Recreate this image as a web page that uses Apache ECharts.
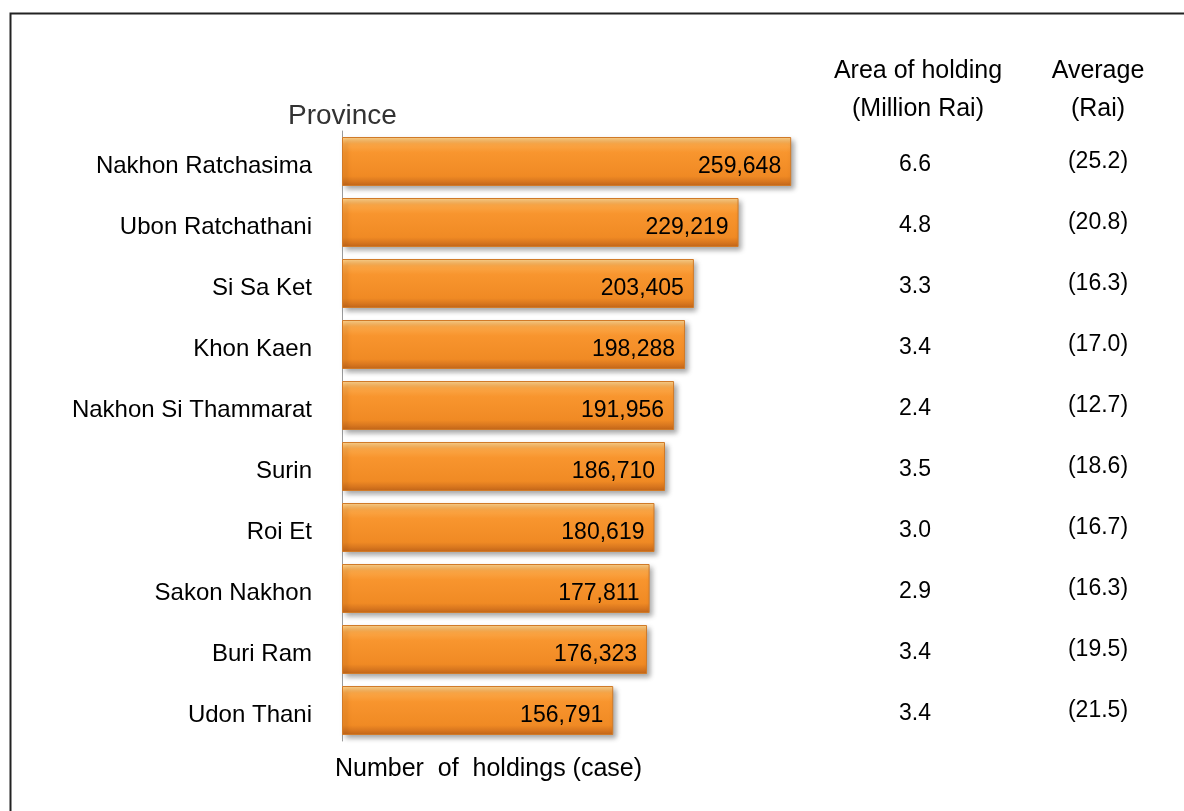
<!DOCTYPE html>
<html>
<head>
<meta charset="utf-8">
<title>Number of holdings by province</title>
<script src="https://cdn.jsdelivr.net/npm/echarts@6/dist/echarts.min.js"></script>
<style>
  html, body { margin: 0; padding: 0; background: #fff; }
  #main { width: 1184px; height: 811px; }
</style>
</head>
<body>
<div id="main"></div>
<script>
// provinces, top to bottom
var provinces = ['Nakhon Ratchasima', 'Ubon Ratchathani', 'Si Sa Ket', 'Khon Kaen',
  'Nakhon Si Thammarat', 'Surin', 'Roi Et', 'Sakon Nakhon', 'Buri Ram', 'Udon Thani'];
// number of holdings (case)
var holdings = [259648, 229219, 203405, 198288, 191956, 186710, 180619, 177811, 176323, 156791];
// area of holding (million rai)
var area = ['6.6', '4.8', '3.3', '3.4', '2.4', '3.5', '3.0', '2.9', '3.4', '3.4'];
// average (rai)
var average = ['25.2', '20.8', '16.3', '17.0', '12.7', '18.6', '16.7', '16.3', '19.5', '21.5'];

var FONT = 'Liberation Sans';
var myChart = echarts.init(document.getElementById('main'));

var option = {
  backgroundColor: '#fff',
  textStyle: { fontFamily: FONT },
  animation: false,
  grid: { left: 342, right: 323, top: 131, bottom: 70 },
  xAxis: {
    type: 'value',
    min: 0,
    max: 300000,
    show: false
  },
  yAxis: [{
    type: 'category',
    data: provinces,
    inverse: true,
    axisLine: { show: true, lineStyle: { color: '#9a9a9a', width: 1 } },
    axisTick: { show: false },
    axisLabel: {
      margin: 30,
      formatter: function (v) { return '{p|' + v + '}'; },
      rich: {
        p: { color: '#000', fontSize: 24, fontFamily: FONT, padding: [10, 0, 0, 0] }
      }
    }
  }, {
    // right side text columns
    type: 'category',
    data: provinces,
    inverse: true,
    position: 'right',
    axisLine: { show: false },
    axisTick: { show: false },
    axisLabel: {
      margin: 0,
      formatter: function (v, i) {
        return '{a|' + area[i] + '}{s|}{b|(' + average[i] + ')}';
      },
      rich: {
        a: { width: 108, align: 'center', fontSize: 23, color: '#000', fontFamily: FONT, padding: [6, 0, 0, 0] },
        s: { width: 64 },
        b: { width: 130, align: 'center', fontSize: 23, color: '#000', fontFamily: FONT }
      }
    }
  }],
  series: [{
    name: 'holdings',
    type: 'bar',
    data: holdings,
    barWidth: 49,
    itemStyle: {
      color: new echarts.graphic.LinearGradient(0, 0, 0, 1, [
        { offset: 0, color: '#FFD690' },
        { offset: 0.14, color: '#FBA747' },
        { offset: 0.32, color: '#F8952E' },
        { offset: 0.8, color: '#F08A24' },
        { offset: 1, color: '#C4661A' }
      ]),
      borderColor: '#D07A28',
      borderWidth: 1,
      shadowColor: 'rgba(0,0,0,0.35)',
      shadowBlur: 5,
      shadowOffsetX: 3,
      shadowOffsetY: 3
    },
    label: {
      show: true,
      position: 'insideRight',
      distance: 10,
      offset: [0, 5],
      color: '#000',
      fontSize: 23,
      fontFamily: FONT,
      formatter: function (p) {
        return p.value.toLocaleString('en-US');
      }
    }
  }],
  graphic: [
    // frame round the picture
    { type: 'rect', shape: { x: 10.5, y: 13.5, width: 1200, height: 820 },
      style: { fill: 'none', stroke: '#222', lineWidth: 2 }, silent: true },
    { type: 'text', left: 288, top: 102,
      style: { text: 'Province', fontSize: 28, fill: '#333', fontFamily: FONT } },
    { type: 'text', left: 335, top: 757,
      style: { text: 'Number  of  holdings (case)', fontSize: 25, fill: '#000', fontFamily: FONT } },
    { type: 'text', x: 918, y: 52,
      style: { text: 'Area of holding\n(Million Rai)', fontSize: 25, lineHeight: 38,
        fill: '#000', align: 'center', fontFamily: FONT } },
    { type: 'text', x: 1098, y: 52,
      style: { text: 'Average\n(Rai)', fontSize: 25, lineHeight: 38,
        fill: '#000', align: 'center', fontFamily: FONT } }
  ]
};

myChart.setOption(option);
window.addEventListener('resize', function () {
  myChart.resize();
});
</script>
</body>
</html>
